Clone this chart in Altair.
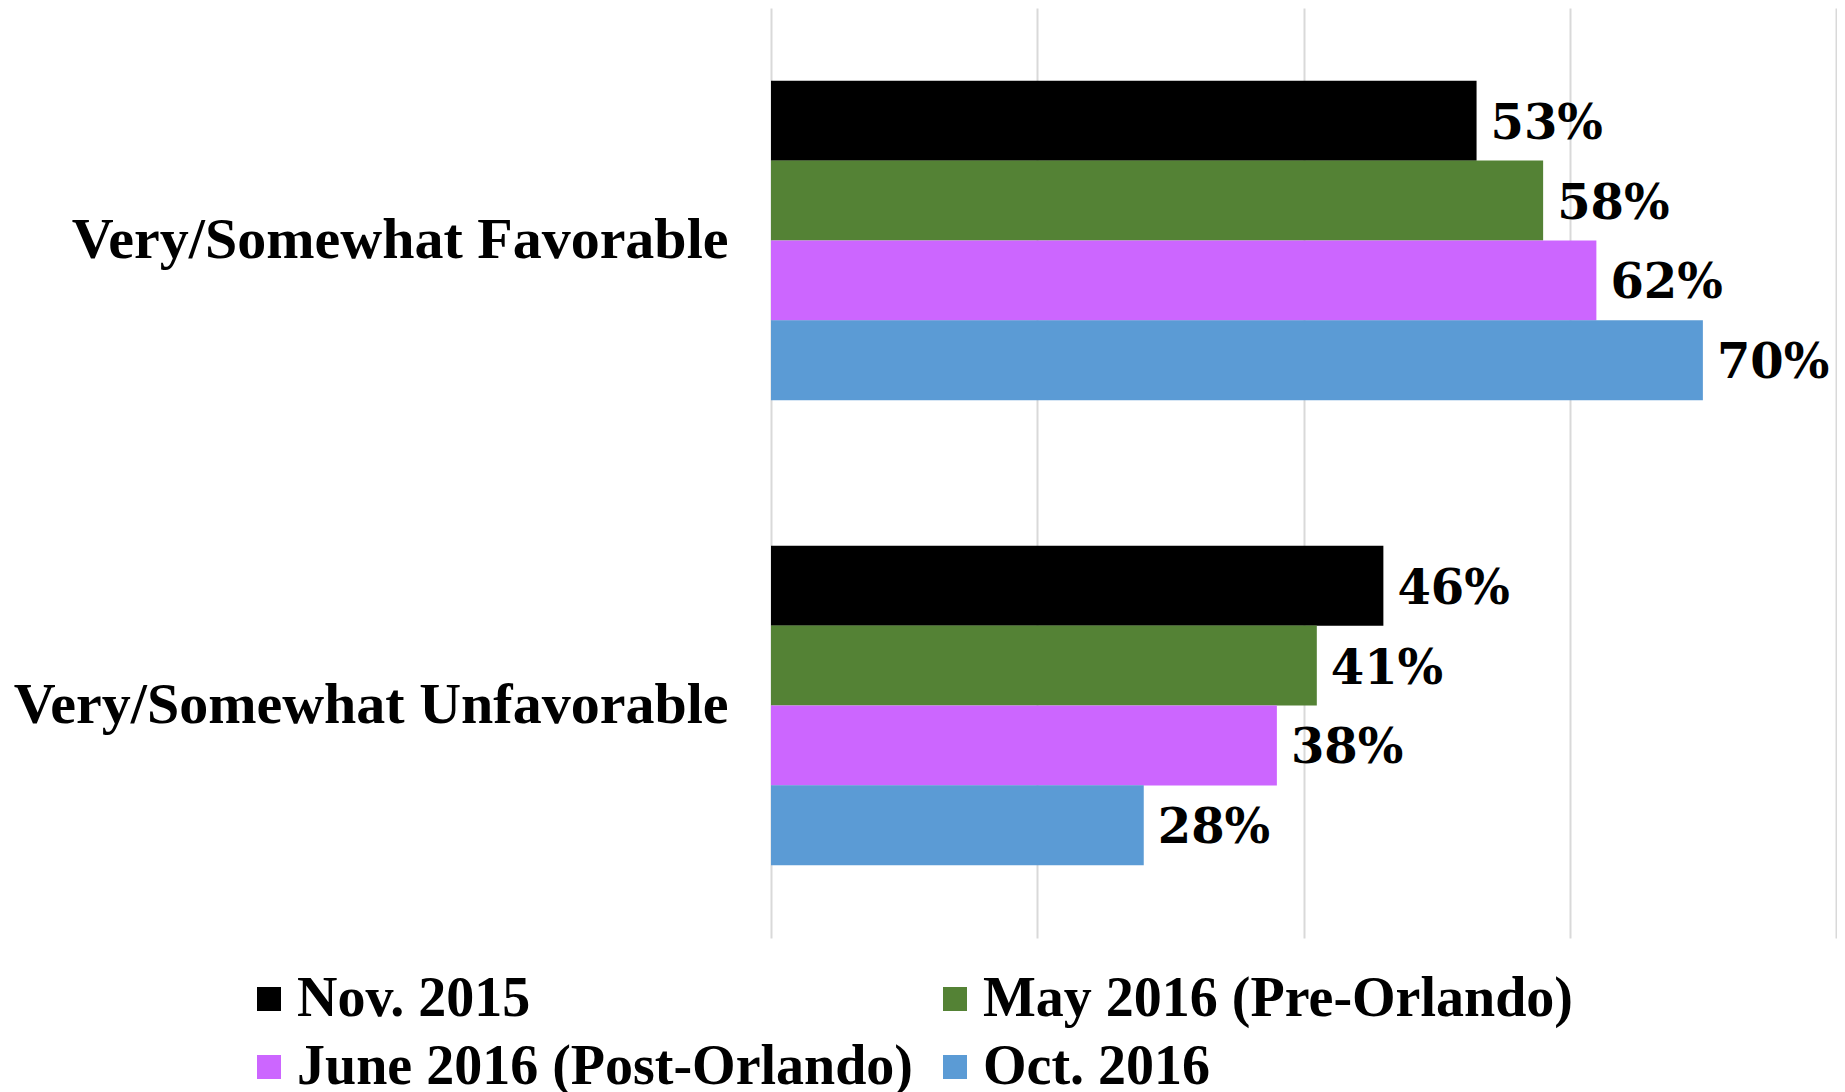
import altair as alt
import pandas as pd

categories = ["Very/Somewhat Favorable", "Very/Somewhat Unfavorable"]
series = ["Nov. 2015", "May 2016 (Pre-Orlando)", "June 2016 (Post-Orlando)", "Oct. 2016"]
colors = ["#000000", "#548235", "#cc66ff", "#5b9bd5"]
favorable = [53, 58, 62, 70]
unfavorable = [46, 41, 38, 28]

rows = []
for cat, vals in zip(categories, [favorable, unfavorable]):
    for s, v in zip(series, vals):
        rows.append({"category": cat, "series": s, "value": v, "label": f"{v}%"})
df = pd.DataFrame(rows)

y_enc = alt.Y("category:N", sort=categories,
              scale=alt.Scale(paddingInner=0.313, paddingOuter=0.1565),
              axis=alt.Axis(title=None, ticks=False, domain=False, labelPadding=43,
                            labelFont="Liberation Serif", labelFontWeight="bold",
                            labelFontSize=58, labelColor="#000000", labelLimit=0))
yoff = alt.YOffset("series:N", sort=series, scale=alt.Scale(paddingInner=0, paddingOuter=0))
x_enc = alt.X("value:Q", scale=alt.Scale(domain=[0, 80], nice=False),
              axis=alt.Axis(values=[0, 20, 40, 60, 80], labels=False, ticks=False,
                            domain=False, title=None, grid=True,
                            gridColor="#d9d9d9", gridWidth=2))

bars = alt.Chart(df).mark_bar(size=80).encode(
    x=x_enc, y=y_enc, yOffset=yoff,
    color=alt.Color("series:N", sort=series,
                    scale=alt.Scale(domain=series, range=colors),
                    legend=alt.Legend(title=None, orient="none", legendX=-530, legendY=963,
                                      direction="horizontal", columns=2,
                                      symbolType="square", symbolSize=576,
                                      symbolStrokeWidth=0, labelOffset=0,
                                      labelFont="Liberation Serif", labelFontWeight="bold",
                                      labelFontSize=56, labelColor="#000000", labelLimit=0,
                                      rowPadding=12, columnPadding=14, padding=0)),
)

text = alt.Chart(df).mark_text(align="left", baseline="middle", dx=14, dy=4,
                               font="DejaVu Serif", fontWeight="bold", fontSize=48,
                               color="#000000").encode(
    x="value:Q", y=alt.Y("category:N", sort=categories), yOffset=yoff,
    text="label:N",
)

chart = alt.layer(bars, text).properties(
    width=1065, height=930,
    autosize=alt.AutoSizeParams(type="none"),
    padding={"left": 763, "top": 0, "right": 1, "bottom": 154},
).configure_view(stroke=None)

chart.save("out.html", embed_options={"renderer": "svg", "actions": False})
